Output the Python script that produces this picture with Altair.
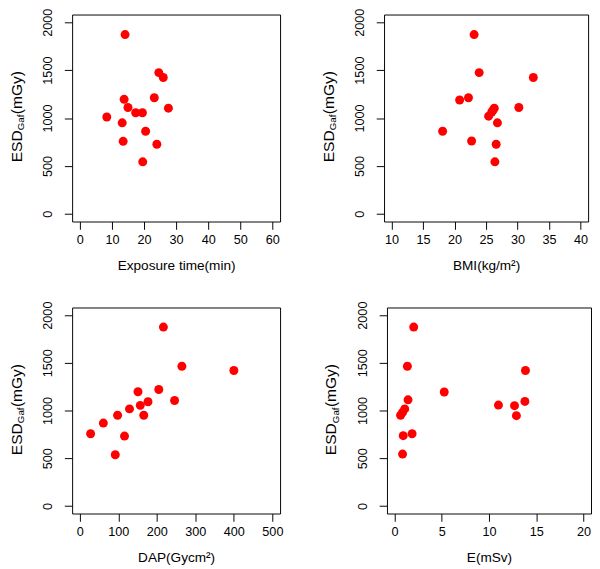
import altair as alt
import pandas as pd

FONT = "Liberation Sans"
RED = "#FF0000"

# ESD_Gaf (mGy) vs exposure time (min)
exposure_time = [14.1, 24.6, 26.0, 13.8, 23.2, 15.0, 27.6, 17.4, 19.5, 8.4, 13.2, 20.5, 13.5, 24.0, 19.6]
esd_time = [1871, 1474, 1423, 1195, 1212, 1110, 1103, 1055, 1055, 1011, 950, 862, 757, 726, 543]

# ESD_Gaf vs BMI (kg/m2)
bmi = [23.1, 23.9, 32.5, 20.8, 22.2, 30.2, 26.3, 26.1, 25.9, 25.4, 26.8, 18.1, 22.7, 26.6, 26.4]
esd_bmi = [1871, 1474, 1423, 1188, 1212, 1110, 1103, 1080, 1063, 1019, 950, 862, 760, 726, 543]

# ESD_Gaf vs DAP (Gycm2)
dap = [217, 265, 400, 151, 205, 246, 177, 157, 129, 166, 98, 61, 28, 116, 92]
esd_dap = [1875, 1464, 1420, 1197, 1220, 1105, 1092, 1054, 1017, 950, 950, 868, 756, 732, 536]

# ESD_Gaf vs E (mSv)
eff_dose = [2.03, 1.36, 13.86, 5.26, 1.43, 13.8, 11.0, 12.7, 1.08, 0.85, 0.64, 12.9, 1.86, 0.92, 0.85]
esd_e = [1875, 1464, 1420, 1194, 1112, 1095, 1057, 1051, 1017, 980, 950, 946, 756, 736, 543]

y_ticks = [0, 500, 1000, 1500, 2000]
y_domain = [-80, 2080]


def panel(xv, yv, xtitle, xdomain, xticks, width, height):
    df = pd.DataFrame({"x": xv, "y": yv})
    pts = alt.Chart(df).mark_circle(size=85, color=RED, opacity=1).encode(
        x=alt.X("x:Q",
                scale=alt.Scale(domain=xdomain, nice=False, zero=False),
                axis=alt.Axis(values=xticks, title=xtitle, domain=False, grid=False, format="d",
                              tickSize=8, tickColor="black", labelPadding=4.5,
                              labelFlush=False, labelOverlap=False,
                              labelFont=FONT, labelFontSize=13, labelColor="black",
                              titleFont=FONT, titleFontSize=14, titleColor="black",
                              titleFontWeight="normal", titlePadding=13)),
        y=alt.Y("y:Q",
                scale=alt.Scale(domain=y_domain, nice=False, zero=False),
                axis=alt.Axis(values=y_ticks, title=None, domain=False, grid=False, format="d",
                              tickSize=8, tickColor="black", labelPadding=10,
                              labelAngle=270, labelAlign="center", labelBaseline="bottom",
                              labelFlush=False, labelOverlap=False,
                              labelFont=FONT, labelFontSize=13, labelColor="black")),
    )
    one = alt.Data(values=[{"k": 1}])
    t_esd = alt.Chart(one).mark_text(text="ESD", angle=270, align="left", baseline="alphabetic",
                                     font=FONT, fontSize=16, color="black").encode(
        x=alt.value(-52), y=alt.value(152))
    t_sub = alt.Chart(one).mark_text(text="Gaf", angle=270, align="left", baseline="alphabetic",
                                     font=FONT, fontSize=10, color="black").encode(
        x=alt.value(-49.5), y=alt.value(119))
    t_unit = alt.Chart(one).mark_text(text="(mGy)", angle=270, align="left", baseline="alphabetic",
                                      font=FONT, fontSize=16, color="black").encode(
        x=alt.value(-52), y=alt.value(102.5))
    return alt.layer(pts, t_esd, t_sub, t_unit).properties(width=width, height=height)


p1 = panel(exposure_time, esd_time, "Exposure time(min)", [-2.4, 62.4], [0, 10, 20, 30, 40, 50, 60], 214, 213)
p2 = panel(bmi, esd_bmi, "BMI(kg/m²)", [8.8, 41.2], [10, 15, 20, 25, 30, 35, 40], 210, 213)
p3 = panel(dap, esd_dap, "DAP(Gycm²)", [-20, 520], [0, 100, 200, 300, 400, 500], 214, 212)
p4 = panel(eff_dose, esd_e, "E(mSv)", [-0.8, 20.8], [0, 5, 10, 15, 20], 210, 212)

chart = alt.vconcat(
    alt.hconcat(p1, p2, spacing=40),
    alt.hconcat(p3, p4, spacing=40),
    spacing=27.5,
).properties(
    padding={"top": -9.5, "left": 0, "right": 0, "bottom": 0},
    background="white",
).configure_view(stroke="black", strokeWidth=1)

chart.save("out.html", embed_options={"renderer": "svg", "actions": False})
